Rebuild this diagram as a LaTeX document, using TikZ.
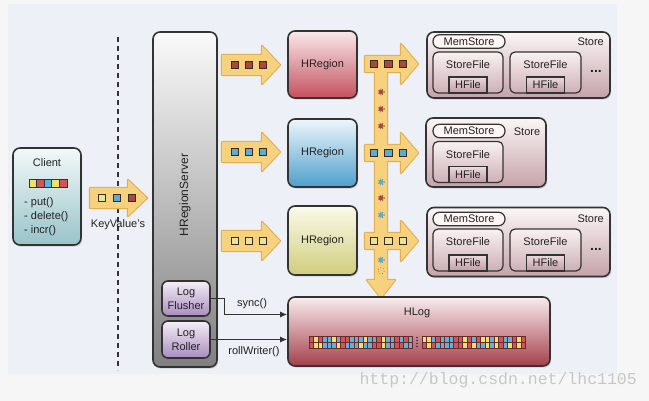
\documentclass[tikz,border=0pt]{standalone}
\usepackage{fontspec}
\setmainfont{Liberation Sans}
\newfontfamily\wmfont{Liberation Mono}
\usetikzlibrary{arrows.meta,shadows}

\definecolor{panelbg}{HTML}{EDF0F6}
\definecolor{outerbg}{HTML}{F6F6F6}
\definecolor{ink}{HTML}{333333}
\definecolor{textc}{HTML}{222222}
\definecolor{arrowfill}{HTML}{F7D27E}
\definecolor{arrowedge}{HTML}{E2AE50}
\definecolor{sqred}{HTML}{A9483F}
\definecolor{sqblue}{HTML}{5BADD0}
\definecolor{sqyel}{HTML}{E6E39A}
\definecolor{sqedge}{HTML}{3B2A20}
\definecolor{cr}{HTML}{D0545A}
\definecolor{cy}{HTML}{EDE36C}
\definecolor{cb}{HTML}{5BB4E0}
\definecolor{cellline}{HTML}{6A2A2A}

\tikzset{
  txt/.style={font=\fontsize{11}{13}\selectfont, text=textc, inner sep=0pt},
  shad/.style={drop shadow={opacity=0.28, shadow xshift=1.2pt, shadow yshift=-1.6pt}},
  rbox/.style={draw=ink, line width=1.6pt, rounded corners=7pt, inner sep=0pt, shad,
    font=\fontsize{11}{13}\selectfont, text=textc},
  clientbox/.style={rbox, top color=white!95!teal, bottom color={rgb,255:red,152;green,195;blue,200}},
  hrsbox/.style={rbox, top color=white!98!black, bottom color=black!50},
  pbox/.style={rbox, rounded corners=6pt, top color={rgb,255:red,244;green,238;blue,246},
    bottom color={rgb,255:red,169;green,140;blue,191}, align=center, font=\fontsize{11}{14}\selectfont},
  hrred/.style={rbox, top color={rgb,255:red,249;green,233;blue,235}, bottom color={rgb,255:red,196;green,80;blue,93}},
  hrblue/.style={rbox, top color={rgb,255:red,238;green,246;blue,251}, bottom color={rgb,255:red,78;green,159;blue,205}},
  hryel/.style={rbox, top color={rgb,255:red,250;green,250;blue,234}, bottom color={rgb,255:red,207;green,205;blue,124}},
  storebox/.style={rbox, top color={rgb,255:red,251;green,246;blue,246}, bottom color={rgb,255:red,196;green,162;blue,168}},
  sfbox/.style={draw=ink, line width=1.2pt, rounded corners=5pt, inner sep=0pt,
    top color={rgb,255:red,249;green,241;blue,241}, bottom color={rgb,255:red,205;green,176;blue,181}},
  hfbox/.style={draw=ink, line width=1.1pt, inner sep=0pt, minimum width=38pt, minimum height=16pt,
    top color={rgb,255:red,235;green,218;blue,220}, bottom color={rgb,255:red,192;green,154;blue,162},
    font=\fontsize{11}{13}\selectfont, text=textc},
  pill/.style={draw=ink, line width=1.2pt, rounded corners=6.5pt, inner sep=0pt, fill=white!96!red,
    minimum width=72pt, minimum height=13.5pt, font=\fontsize{11}{13}\selectfont, text=textc},
  hlogbox/.style={rbox, top color={rgb,255:red,248;green,236;blue,238}, bottom color={rgb,255:red,164;green,64;blue,75}},
  conn/.style={draw=ink, line width=1.2pt, -{Latex[length=7pt,width=6pt]}},
}

\newcommand\fatR[7]{\path[#1] (#2,{#4-#5}) -- ({#3-#7},{#4-#5}) -- ({#3-#7},{#4-#6}) -- (#3,#4)
  -- ({#3-#7},{#4+#6}) -- ({#3-#7},{#4+#5}) -- (#2,{#4+#5}) -- cycle;}
\newcommand\fatD[7]{\path[#1] ({#2-#5},#3) -- ({#2-#5},{#4-#7}) -- ({#2-#6},{#4-#7}) -- (#2,#4)
  -- ({#2+#6},{#4-#7}) -- ({#2+#5},{#4-#7}) -- ({#2+#5},#3) -- cycle;}
\newcommand\allarrows[1]{%
  \fatR{#1}{90}{147}{198}{10}{18}{19}
  \fatR{#1}{222}{280}{65}{10}{19}{18}
  \fatR{#1}{222}{280}{152}{10}{19}{18}
  \fatR{#1}{222}{280}{241}{10}{19}{18}
  \fatR{#1}{365}{418}{64}{8}{20}{17}
  \fatR{#1}{365}{418}{153}{8}{20}{17}
  \fatR{#1}{365}{418}{241}{8}{20}{17}
  \fatD{#1}{381}{62}{298}{6}{14}{18}}
\newcommand\sqr[3]{\filldraw[fill=#3, draw=sqedge, line width=1.1pt] ({#1-3.6},{#2-3.6}) rectangle ({#1+3.6},{#2+3.6});}
\newcommand\dotf[3]{\fill[#3] (#1,#2) circle (2.4); \draw[#3!70!black, line width=0.7pt, dotted] (#1,#2) circle (3.2);}

\begin{document}
\begin{tikzpicture}[x=1pt,y=-1pt]
\useasboundingbox (0,0) rectangle (649,401);
\fill[outerbg] (0,0) rectangle (649,401);
\fill[panelbg] (8,4) rectangle (617,374);

% separator
\draw[ink, line width=1.4pt, dash pattern=on 5pt off 4pt] (118,37) -- (118,370);

% yellow arrows
\allarrows{draw=arrowedge, line width=2.2pt, line join=round}
\allarrows{fill=arrowfill}

% Client
\node[clientbox, minimum width=68pt, minimum height=97pt] (client) at (47,196.5) {};
\node[txt] (clientlbl) at (47,163) {Client};
\foreach \c [count=\i from 0] in {cy,cr,cb,cy,cr}
  \filldraw[fill=\c, draw=ink, line width=0.8pt] ({29+\i*7.6},179.5) rectangle ++(7.6,7.5);
\node[txt, anchor=west] (put) at (24,203) {- put()};
\node[txt, anchor=west] (del) at (24,217) {- delete()};
\node[txt, anchor=west] (incr) at (24,230.5) {- incr()};

% KeyValue squares & label
\sqr{102}{198}{sqyel}\sqr{117}{198}{sqblue}\sqr{132}{198}{sqred}
\node[txt] (kv) at (118,225) {KeyValue's};

% HRegionServer
\node[hrsbox, minimum width=64pt, minimum height=335pt] (hrs) at (185,199.5) {};
\node[txt, rotate=90, font=\fontsize{12}{14}\selectfont] (hrslbl) at (185,195) {HRegionServer};
\node[pbox, minimum width=48pt, minimum height=35pt] (flusher) at (186,298.5) {Log\\Flusher};
\node[pbox, minimum width=48pt, minimum height=37pt] (roller) at (186,339.5) {Log\\Roller};

% squares in arrows to HRegions
\sqr{235}{65}{sqred}\sqr{249}{65}{sqred}\sqr{263}{65}{sqred}
\sqr{235}{152}{sqblue}\sqr{249}{152}{sqblue}\sqr{263}{152}{sqblue}
\sqr{235}{241}{sqyel}\sqr{249}{241}{sqyel}\sqr{263}{241}{sqyel}

% HRegions
\node[hrred, minimum width=69pt, minimum height=67pt] (hr1) at (322.5,64.5) {HRegion};
\node[hrblue, minimum width=69pt, minimum height=68pt] (hr2) at (322.5,153) {HRegion};
\node[hryel, minimum width=69pt, minimum height=69pt] (hr3) at (322.5,240.5) {HRegion};

% squares in T arrow
\sqr{374}{64}{sqred}\sqr{388.5}{64}{sqred}\sqr{403}{64}{sqred}
\sqr{374}{153}{sqblue}\sqr{388.5}{153}{sqblue}\sqr{403}{153}{sqblue}
\sqr{374}{241}{sqyel}\sqr{388.5}{241}{sqyel}\sqr{403}{241}{sqyel}
\dotf{381}{92}{sqred}\dotf{381}{109}{sqred}\dotf{381}{126}{sqred}
\dotf{381}{182}{sqblue}\dotf{381}{198}{sqred}\dotf{381}{215}{sqblue}
\dotf{381}{260}{sqblue}
\draw[sqyel!60!black, line width=0.8pt, dotted] (381,271) circle (3.2);

% Store 1
\node[storebox, minimum width=183pt, minimum height=66pt] (st1) at (518.5,65) {};
\node[pill] (ms1) at (469,41.5) {MemStore};
\node[txt, anchor=east] (st1lbl) at (604,42) {Store};
\node[sfbox, minimum width=70pt, minimum height=41pt] (sf11) at (468,72.5) {};
\node[txt] at (468,65) {StoreFile};
\node[hfbox, anchor=south] (hf11) at (sf11.south) {HFile};
\node[sfbox, minimum width=71pt, minimum height=41pt] (sf12) at (545.5,72.5) {};
\node[txt] at (545.5,65) {StoreFile};
\node[hfbox, anchor=south] (hf12) at (sf12.south) {HFile};
\node[txt, font=\fontsize{14}{14}\selectfont\bfseries] (dots1) at (596,71) {...};

% Store 2
\node[storebox, minimum width=120pt, minimum height=69pt] (st2) at (486,152.5) {};
\node[pill] (ms2) at (469,131) {MemStore};
\node[txt] (st2lbl) at (527,132) {Store};
\node[sfbox, minimum width=70pt, minimum height=41pt] (sf21) at (468,162) {};
\node[txt] at (468,155) {StoreFile};
\node[hfbox, anchor=south] (hf21) at (sf21.south) {HFile};

% Store 3
\node[storebox, minimum width=183pt, minimum height=69pt] (st3) at (518.5,242) {};
\node[pill] (ms3) at (469,219) {MemStore};
\node[txt, anchor=east] (st3lbl) at (604,219) {Store};
\node[sfbox, minimum width=70pt, minimum height=42pt] (sf31) at (468,250) {};
\node[txt] at (468,242) {StoreFile};
\node[hfbox, anchor=south] (hf31) at (sf31.south) {HFile};
\node[sfbox, minimum width=71pt, minimum height=42pt] (sf32) at (545.5,250) {};
\node[txt] at (545.5,242) {StoreFile};
\node[hfbox, anchor=south] (hf32) at (sf32.south) {HFile};
\node[txt, font=\fontsize{14}{14}\selectfont\bfseries] (dots3) at (596,249) {...};

% HLog
\node[hlogbox, minimum width=262pt, minimum height=69pt] (hlog) at (419,331.5) {};
\node[txt] (hloglbl) at (417,313) {HLog};
\foreach \c [count=\i from 0] in {r,y,r,b,b,y,b,r,r,b,b,b,y,b,b,r,y,b,b,r,b,r,b}
  \filldraw[fill=c\c, draw=cellline, line width=0.5pt] ({309+\i*4.5},336) rectangle ++(4.5,6);
\foreach \c [count=\i from 0] in {r,y,y,b,b,b,y,r,b,b,b,y,b,b,r,r,y,b,b,r,r,b,b}
  \filldraw[fill=c\c, draw=cellline, line width=0.5pt] ({309+\i*4.5},342) rectangle ++(4.5,6);
\foreach \c [count=\i from 0] in {y,y,b,r,b,b,b,r,r,y,r,b,r,y,y,b,y,r,b,b,r,y,r}
  \filldraw[fill=c\c, draw=cellline, line width=0.5pt] ({422+\i*4.5},336) rectangle ++(4.5,6);
\foreach \c [count=\i from 0] in {r,y,r,b,b,b,b,r,r,y,r,y,b,b,y,b,y,r,b,y,r,y,r}
  \filldraw[fill=c\c, draw=cellline, line width=0.5pt] ({422+\i*4.5},342) rectangle ++(4.5,6);
\foreach \yy in {337.5,340.5,343.5,346.5} \fill[ink] (417,\yy) circle (0.8);

% connectors
\draw[conn] (flusher.east) -- ++(14,0) |- ([yshift=17pt]hlog.west);
\draw[conn] (roller.east) -- (roller.east -| hlog.west);
\node[txt] (synclbl) at (252,304) {sync()};
\node[txt] (rolllbl) at (254,352) {rollWriter()};

% watermark
\node[inner sep=0pt, anchor=east, text=black!22, font=\wmfont\fontsize{16.5}{18}\selectfont] (wm) at (637,380) {http://blog.csdn.net/lhc1105};
\end{tikzpicture}
\end{document}
